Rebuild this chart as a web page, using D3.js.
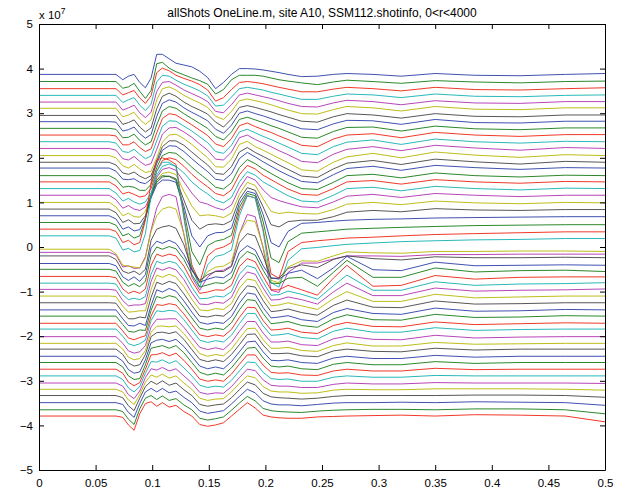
<!DOCTYPE html>
<html>
<head>
<meta charset="utf-8">
<script src="https://cdn.jsdelivr.net/npm/d3@7"></script>
<style>
  body { margin: 0; background: #fff; }
  text { font-family: "Liberation Sans", Arial, Helvetica, sans-serif; }
</style>
</head>
<body>
<svg id="chart" width="618" height="493"></svg>
<script>
// Sample times (s) shared by every trace
const timeKnots = [0,0.062,0.068,0.074,0.079,0.084,0.089,0.094,0.099,0.104,
  0.109,0.115,0.121,0.128,0.135,0.142,0.149,0.156,0.163,0.170,
  0.177,0.184,0.191,0.198,0.205,0.212,0.220,0.232,0.246,0.260,
  0.272,0.295,0.320,0.350,0.385,0.425,0.465,0.500];

// Vertical offset of each trace (units of 1e7)
const traceOffsets = [3.87,3.71,3.55,3.40,3.25,3.11,2.95,2.81,2.66,2.51,2.36,2.21,2.05,1.90,
  1.77,1.60,1.46,1.31,1.16,1.00,0.85,0.70,0.55,0.40,0.25,-0.12,-0.05,-0.20,
  -0.37,-0.50,-0.66,-0.81,-0.95,-1.10,-1.25,-1.41,-1.55,-1.71,-1.84,-2.01,-2.16,-2.29,
  -2.45,-2.59,-2.74,-2.89,-3.05,-3.19,-3.33,-3.49,-3.65,-3.79];

// Line colour order (b g r c m y k)
const colorCycle = ["#2a3da8","#137a13","#ee2211","#11b0b0","#b030b0","#b5b500","#444444"];

// Trace amplitudes at the sample times (units of 1e6), top group
const upperTraces = [
  [0,0,0,-1.2,-0.4,0,-1.8,-3.0,-0.8,4.5,4.5,3.5,2.5,2.1,1.7,0.7,-0.7,-3.2,-1.8,0,1.3,1.3,1.2,1.0,0.7,0.4,0,-0.5,-0.4,0,0.2,0,-0.4,0.2,-0.2,-0.3,0,0.2],
  [0,0,0,-1.5,-1.2,-0.4,-2.2,-3.8,-2.0,4.0,4.3,3.0,2.2,1.5,0.8,0.2,-0.6,-2.8,-1.8,0.4,1.4,1.4,1.4,1.2,0.8,0.4,0.1,-0.3,-0.7,-0.1,0.3,0,-0.4,0.2,-0.1,-0.3,0,0.1],
  [0,0,0,-1.4,-0.9,-0.4,-2.1,-3.3,-1.6,3.6,4.6,4.0,3.0,2.3,1.7,0.9,-0.3,-2.8,-2.0,-0.2,1.4,1.6,1.4,1.1,0.7,0.3,-0.1,-0.7,-0.7,-0.1,0.3,0,-0.5,0.3,-0.2,-0.3,0,0.2],
  [0,0,0,-1.6,-1.0,-0.5,-2.2,-3.4,-2.0,3.0,4.5,4.3,3.4,2.5,1.8,1.0,-0.1,-2.4,-2.2,-0.4,1.5,1.8,1.5,1.2,0.7,0.3,-0.2,-0.9,-0.9,-0.2,0.3,0.1,-0.5,0.3,-0.2,-0.3,0,0.1],
  [0,0,0,-1.8,-1.3,-0.7,-2.4,-3.5,-2.3,2.4,4.4,4.6,3.8,2.7,1.9,1.1,0.1,-2.1,-2.4,-0.6,1.6,2.0,1.6,1.2,0.8,0.3,-0.3,-1.0,-1.1,-0.2,0.4,0.1,-0.6,0.3,-0.2,-0.3,0.1,0.1],
  [0,0,0,-1.9,-1.5,-0.9,-2.5,-3.6,-2.6,1.9,4.4,4.8,4.1,2.9,2.0,1.2,0.2,-1.8,-2.5,-0.7,1.7,2.1,1.7,1.3,0.8,0.2,-0.4,-1.2,-1.3,-0.3,0.4,0.1,-0.6,0.4,-0.2,-0.3,0.1,0.1],
  [0,0,0,-2.0,-1.6,-1.0,-2.6,-3.7,-2.8,1.5,4.3,5.0,4.3,3.0,2.0,1.2,0.3,-1.5,-2.6,-0.8,1.8,2.2,1.8,1.3,0.8,0.2,-0.4,-1.3,-1.5,-0.3,0.4,0.1,-0.6,0.4,-0.2,-0.3,0.1,0.1],
  [0,0,-0.1,-2.1,-1.8,-1.2,-2.7,-3.7,-2.9,1.2,4.1,4.9,4.4,3.1,2.1,1.2,0.2,-1.7,-2.6,-0.8,1.9,2.4,1.8,1.3,0.7,0.1,-0.6,-1.6,-1.8,-0.5,0.3,0.2,-0.6,0.5,-0.2,-0.3,0.1,0.1],
  [0,0,-0.2,-2.1,-2.0,-1.3,-2.7,-3.7,-3.0,0.8,3.9,4.9,4.5,3.3,2.2,1.1,0,-1.8,-2.6,-0.8,2.0,2.5,1.9,1.3,0.6,0,-0.8,-2.0,-2.2,-0.7,0.2,0.3,-0.6,0.5,-0.1,-0.3,0.1,0.1],
  [0,0,-0.2,-2.2,-2.2,-1.5,-2.8,-3.7,-3.1,0.5,3.7,4.8,4.5,3.4,2.3,1.1,-0.1,-2.0,-2.6,-0.8,2.1,2.7,1.9,1.2,0.6,-0.2,-1.0,-2.3,-2.6,-0.9,0,0.3,-0.6,0.6,0,-0.3,0.1,0.1],
  [0,0,-0.3,-2.2,-2.4,-1.7,-2.8,-3.8,-3.2,0.2,3.5,4.7,4.6,3.5,2.4,1.1,-0.2,-2.2,-2.6,-0.8,2.2,2.8,2.0,1.2,0.5,-0.3,-1.2,-2.6,-2.9,-1.1,-0.1,0.4,-0.6,0.6,0,-0.3,0.1,0],
  [0,0,-0.4,-2.3,-2.6,-1.8,-2.9,-3.8,-3.4,-0.2,3.2,4.6,4.7,3.7,2.5,1.0,-0.4,-2.4,-2.6,-0.8,2.4,3.0,2.0,1.2,0.4,-0.5,-1.4,-2.9,-3.2,-1.3,-0.2,0.4,-0.5,0.7,0.1,-0.4,0.2,0],
  [0,0,-0.5,-2.3,-2.8,-2.0,-3.0,-3.8,-3.5,-0.5,3.0,4.6,4.8,3.8,2.5,1.0,-0.5,-2.5,-2.6,-0.8,2.5,3.2,2.0,1.2,0.3,-0.6,-1.6,-3.2,-3.5,-1.5,-0.3,0.5,-0.5,0.8,0.1,-0.4,0.2,0],
  [0,0,-0.6,-2.4,-2.7,-2.2,-3.1,-3.7,-3.0,0.3,3.5,4.8,4.8,3.8,2.3,0.8,-0.6,-2.5,-2.7,-1.0,2.3,3.3,2.2,1.3,0.4,-0.6,-1.6,-3.1,-3.4,-1.5,-0.2,0.4,-0.5,0.7,0.1,-0.4,0.2,0]
];

// Middle group, including the strongest arrivals
const middleTraces = [
  [0,0,-0.7,-2.5,-2.6,-2.4,-3.2,-3.5,-2.5,1.0,4.0,5.0,4.9,3.7,2.1,0.6,-0.8,-2.5,-2.8,-1.3,2.1,3.5,2.5,1.4,0.4,-0.6,-1.6,-3.0,-3.3,-1.5,-0.1,0.4,-0.5,0.6,0.1,-0.3,0.1,0],
  [0,0,-0.8,-2.6,-2.4,-2.6,-3.3,-3.3,-2.0,1.8,4.5,5.2,5.0,3.6,1.9,0.4,-1.0,-2.6,-3.0,-1.6,1.8,3.6,2.7,1.5,0.5,-0.5,-1.6,-2.9,-3.1,-1.5,0,0.3,-0.5,0.6,0,-0.3,0.1,0],
  [0,0,-0.9,-2.7,-2.3,-2.8,-3.4,-3.1,-1.5,2.4,4.8,5.4,5.0,3.5,1.7,0.2,-1.1,-2.6,-3.1,-1.8,1.6,3.7,2.9,1.5,0.5,-0.5,-1.6,-2.8,-3.0,-1.5,0,0.3,-0.5,0.5,0,-0.3,0.1,0],
  [0,0,-1.0,-2.8,-2.2,-3.0,-3.5,-3.0,-1.0,3.0,5.0,5.5,5.0,3.5,1.5,0,-1.2,-2.6,-3.2,-2.0,1.5,3.8,3.0,1.5,0.5,-0.5,-1.6,-2.8,-3.0,-1.5,0,0.3,-0.5,0.5,0,-0.3,0.1,0],
  [0,0,-1.0,-2.9,-2.3,-3.1,-3.4,-2.6,0,4.0,5.8,6.2,5.6,3.0,0.5,-1.5,-2.0,-2.8,-3.3,-2.2,1.6,4.2,3.4,1.2,-0.5,-1.2,-1.8,-2.6,-2.8,-1.5,-0.2,0.2,-0.5,0.4,0,-0.3,0,0],
  [0,0,-1.0,-3.0,-2.4,-3.2,-3.3,-2.0,1.5,5.0,6.5,6.8,6.2,2.5,-0.8,-3.0,-2.8,-3.0,-3.4,-2.4,1.8,4.5,3.8,0.8,-2.0,-2.5,-2.2,-2.5,-2.6,-1.6,-0.4,0,-0.5,0.3,-0.1,-0.3,0,-0.1],
  [0,0,-0.8,-3.0,-2.4,-3.3,-3.2,-1.5,3.0,6.0,7.2,7.4,6.8,2.0,-2.5,-4.5,-3.5,-3.3,-3.5,-2.6,2.2,4.8,4.2,0.5,-3.5,-4.0,-2.8,-2.5,-2.5,-1.7,-0.7,-0.3,-0.6,0.1,-0.2,-0.3,-0.1,-0.1],
  [0,0,-0.7,-3.0,-2.5,-3.4,-3.1,-0.5,4.0,7.0,8.0,8.0,7.5,2.2,-4.5,-7.0,-4.5,-3.8,-3.7,-2.8,2.8,5.5,5.0,0.3,-6.0,-7.0,-3.5,-1.7,-1.5,-1.2,-1.0,-0.8,-0.7,-0.5,-0.4,-0.3,-0.2,-0.2],
  [0,0,-0.6,-3.0,-2.5,-3.5,-3.0,0.8,6.0,9.5,10.5,10.3,9.5,2.6,-6.5,-9.5,-5.2,-4.2,-3.8,-2.9,3.4,6.5,6.0,0.2,-8.0,-9.0,-4.3,-2.4,-2.1,-1.8,-1.5,-1.3,-1.1,-0.9,-0.7,-0.6,-0.5,-0.5],
  [0,0,-0.5,-3.0,-2.5,-3.5,-3.0,2.0,10.5,15.5,16.0,15.5,14.5,3.0,-8.0,-12.0,-6.0,-4.5,-4.0,-3.0,4.0,7.5,7.0,0,-10.0,-11.0,-5.0,-3.0,-2.6,-2.3,-2.0,-1.8,-1.5,-1.2,-1.0,-0.8,-0.6,-0.6],
  [0,0,-0.5,-3.2,-2.8,-3.6,-3.3,0.5,9.0,14.5,16.5,16.5,15.5,4.0,-7.0,-11.5,-6.5,-4.6,-4.2,-3.2,4.5,9.0,8.5,1.0,-10.5,-11.5,-5.5,-2.9,-2.6,-2.2,-1.9,-1.6,-1.3,-1.1,-0.9,-0.8,-0.6,-0.6],
  [0,0,-0.6,-3.3,-3.0,-3.6,-3.5,-1.0,5.0,10.0,12.5,13.0,12.5,4.0,-5.5,-8.5,-5.5,-4.2,-4.0,-3.0,4.2,8.5,8.0,1.0,-8.5,-9.0,-4.5,-2.4,-2.4,-1.5,-0.8,-0.8,-0.9,-0.5,-0.5,-0.4,-0.4,-0.4],
  [0,0,-1.0,-3.6,-3.8,-4.0,-4.2,-2.0,4.0,7.5,9.0,9.5,9.0,3.5,-4.5,-7.5,-5.0,-4.0,-3.8,-2.8,3.5,6.5,6.2,0.5,-7.0,-7.5,-4.0,-2.6,-2.7,-1.5,-0.6,-0.8,-0.9,-0.5,-0.5,-0.4,-0.4,-0.5],
  [0,0,-0.8,-3.4,-3.9,-3.4,-4.2,-3.0,3.5,6.0,6.5,6.8,6.2,2.5,-3.0,-5.5,-4.2,-3.5,-3.5,-2.4,3.0,5.0,4.5,0,-5.0,-5.0,-2.8,-2.0,-2.6,-0.8,0,-0.6,-0.9,-0.2,-0.4,-0.4,-0.3,-0.4]
];

// Bottom group
const lowerTraces = [
  [0,0,-0.5,-3.0,-3.8,-3.0,-4.0,-2.5,3.5,5.0,4.5,5.2,4.5,2.0,-1.5,-4.2,-3.5,-3.0,-3.2,-2.0,2.5,4.0,3.0,-0.5,-3.2,-3.5,-2.2,-1.5,-3.4,-1.0,1.6,-1.4,-1.6,0.3,-0.5,-0.4,-0.3,-0.4],
  [0,0,-0.4,-2.9,-3.8,-3.2,-3.9,-2.7,3.0,5.0,4.5,5.1,4.6,2.2,-1.2,-4.0,-3.5,-3.0,-3.2,-2.0,2.3,4.0,3.2,-0.2,-3.1,-3.2,-2.0,-1.8,-3.8,-0.7,2.0,-1.8,-1.8,0.3,-0.6,-0.3,-0.2,-0.5],
  [0,0,-0.3,-2.8,-3.8,-3.3,-3.8,-2.8,2.5,5.0,4.5,5.0,4.6,2.3,-1.0,-3.8,-3.5,-3.0,-3.1,-2.0,2.2,4.0,3.3,0,-3.0,-3.0,-2.0,-3.0,-4.2,-0.4,2.5,-2.2,-2.0,0.2,-0.6,-0.2,-0.1,-0.1],
  [0,0,-0.2,-2.6,-3.7,-3.4,-3.7,-3.0,2.0,4.9,4.4,4.9,4.5,2.3,-0.9,-3.5,-3.4,-2.9,-3.1,-1.9,2.0,3.9,3.4,0.2,-2.7,-2.6,-1.8,-2.5,-3.6,-0.6,1.8,-1.6,-1.6,0.3,-0.5,-0.2,-0.1,0.1],
  [0,0,-0.2,-2.5,-3.7,-3.5,-3.5,-3.2,1.8,4.8,4.3,4.9,4.4,2.2,-0.8,-3.3,-3.4,-2.9,-3.1,-1.8,1.9,3.9,3.4,0.3,-2.4,-2.3,-1.7,-2.3,-3.3,-0.6,1.4,-1.4,-1.4,0.3,-0.4,-0.2,-0.1,0.1],
  [0,0,-0.1,-2.3,-3.6,-3.5,-3.3,-3.3,1.5,4.7,4.2,4.9,4.3,2.1,-0.7,-3.1,-3.3,-2.8,-3.0,-1.7,1.8,3.8,3.5,0.4,-2.2,-2.0,-1.5,-2.2,-3.0,-0.6,1.0,-1.2,-1.2,0.4,-0.4,-0.2,0,0],
  [0,0,-0.1,-2.2,-3.6,-3.6,-3.2,-3.4,1.2,4.6,4.1,4.8,4.3,2.0,-0.6,-3.0,-3.2,-2.8,-3.0,-1.6,1.6,3.8,3.5,0.5,-2.0,-1.8,-1.4,-2.2,-2.8,-0.6,0.6,-1.0,-1.1,0.4,-0.3,-0.2,0,0],
  [0,0,0,-2.0,-3.5,-3.6,-3.0,-3.5,1.0,4.5,4.0,4.8,4.2,2.0,-0.5,-2.8,-3.2,-2.8,-3.0,-1.5,1.5,3.8,3.5,0.5,-1.8,-1.6,-1.3,-2.2,-2.6,-0.6,0.3,-0.8,-1.0,0.4,-0.3,-0.2,0.1,0],
  [0,0,0,-1.9,-3.4,-3.6,-3.1,-3.2,1.3,4.4,4.0,4.6,4.2,2.0,-0.4,-2.7,-3.1,-2.7,-3.0,-1.5,1.4,3.7,3.5,0.6,-1.7,-1.5,-1.2,-2.1,-2.5,-0.6,0.3,-0.8,-0.9,0.4,-0.3,-0.2,0.1,0],
  [0,0,0,-1.7,-3.3,-3.7,-3.2,-2.8,1.6,4.2,4.0,4.4,4.1,2.1,-0.3,-2.6,-3.0,-2.6,-2.9,-1.4,1.3,3.6,3.5,0.6,-1.5,-1.4,-1.1,-2.0,-2.3,-0.5,0.2,-0.7,-0.8,0.3,-0.3,-0.1,0.1,0],
  [0,0,0,-1.6,-3.3,-3.7,-3.3,-2.5,1.9,4.1,3.9,4.2,4.0,2.1,-0.2,-2.5,-3.0,-2.6,-2.9,-1.4,1.2,3.5,3.5,0.7,-1.4,-1.3,-1.0,-1.9,-2.2,-0.5,0.2,-0.7,-0.7,0.3,-0.3,-0.1,0,0],
  [0,0,0,-1.5,-3.2,-3.7,-3.4,-2.0,2.2,3.9,3.9,4.0,4.0,2.1,-0.2,-2.4,-2.9,-2.5,-2.9,-1.3,1.2,3.4,3.4,0.8,-1.2,-1.2,-1.0,-1.8,-2.0,-0.5,0.1,-0.6,-0.7,0.3,-0.3,-0.1,0,0],
  [0,0,0,-1.3,-3.1,-3.7,-3.4,-1.6,2.5,3.8,3.9,3.7,3.9,2.2,-0.1,-2.3,-2.9,-2.5,-2.8,-1.3,1.1,3.3,3.4,0.8,-1.1,-1.1,-0.9,-1.6,-1.8,-0.5,0.1,-0.6,-0.6,0.2,-0.2,-0.1,0,0],
  [0,0,0,-1.2,-3.1,-3.8,-3.5,-1.2,2.8,3.7,3.8,3.5,3.9,2.2,-0.1,-2.3,-2.8,-2.4,-2.8,-1.2,1.0,3.3,3.4,0.9,-1.0,-1.0,-0.9,-1.5,-1.7,-0.4,0,-0.5,-0.6,0.2,-0.2,0,0,0],
  [0,0,0,-1.1,-3.0,-3.8,-3.5,-0.8,3.0,3.6,3.8,3.3,3.8,2.2,0,-2.2,-2.8,-2.4,-2.8,-1.2,1.0,3.2,3.4,1.0,-0.9,-1.0,-0.8,-1.4,-1.6,-0.4,0,-0.5,-0.5,0.2,-0.2,0,0,0],
  [0,0,0,-1.0,-3.0,-3.8,-3.6,-0.5,3.2,3.5,3.8,3.2,3.8,2.2,0,-2.2,-2.8,-2.4,-2.8,-1.2,1.0,3.2,3.4,1.0,-0.8,-1.0,-0.8,-1.4,-1.6,-0.4,0,-0.5,-0.5,0.2,-0.2,0,0,0],
  [0,0,0,-0.9,-2.9,-3.7,-3.0,0,3.2,3.3,3.7,3.0,3.6,2.0,0,-2.2,-2.7,-2.4,-2.7,-1.1,1.1,3.2,3.2,0.9,-0.7,-0.9,-0.8,-1.3,-1.4,-0.4,0,-0.4,-0.4,0.2,-0.1,0,0,0],
  [0,0,0,-0.8,-2.7,-3.6,-2.4,0.6,3.2,3.1,3.6,2.8,3.4,1.8,0,-2.1,-2.6,-2.3,-2.5,-1.0,1.1,3.1,3.0,0.8,-0.6,-0.8,-0.7,-1.2,-1.2,-0.3,0,-0.3,-0.3,0.1,0,0,0,0],
  [0,0,0,-0.7,-2.6,-3.5,-1.8,1.2,3.2,2.9,3.5,2.7,3.2,1.6,0,-2.1,-2.5,-2.2,-2.3,-0.8,1.2,3.1,2.8,0.7,-0.5,-0.7,-0.7,-1.0,-1.0,-0.3,0,-0.2,-0.2,0.1,0,0,0,-0.1],
  [0,0,0,-0.6,-2.4,-3.4,-1.2,1.6,3.2,2.7,3.4,2.5,3.0,1.4,0,-2.0,-2.5,-2.2,-2.1,-0.6,1.3,3.0,2.6,0.6,-0.4,-0.6,-0.6,-0.9,-0.8,-0.2,0,-0.1,-0.1,0.1,0.1,0.1,0,-0.2],
  [0,0,0,-0.5,-2.3,-3.4,-0.6,2.0,3.2,2.5,3.3,2.3,2.8,1.3,0,-2.0,-2.4,-2.1,-1.9,-0.5,1.3,3.0,2.4,0.5,-0.3,-0.5,-0.6,-0.8,-0.6,-0.2,0,0,0,0,0.1,0.1,0,-0.4],
  [0,0,0,-0.4,-2.2,-3.3,-0.2,2.4,3.2,2.4,3.2,2.2,2.6,1.2,0,-1.9,-2.4,-2.1,-1.8,-0.3,1.4,3.0,2.2,0.4,-0.3,-0.5,-0.5,-0.7,-0.4,-0.1,0,0,0.1,0,0.2,0.1,0,-0.6],
  [0,0,0,-0.4,-2.1,-3.3,0.2,2.6,3.2,2.3,3.1,2.1,2.5,1.1,0,-1.9,-2.3,-2.0,-1.6,-0.1,1.5,3.0,2.0,0.3,-0.2,-0.4,-0.5,-0.6,-0.3,-0.1,0,0.1,0.1,0,0.2,0.2,0,-0.9],
  [0,0,0,-0.3,-2.0,-3.2,0.5,2.8,3.2,2.2,3.0,2.0,2.4,1.0,0,-1.9,-2.3,-2.0,-1.5,0,1.5,3.0,1.8,0.2,-0.2,-0.4,-0.5,-0.5,-0.2,-0.1,0,0.1,0.2,0,0.3,0.2,0,-1.3]
];

// Axis ticks
const xTicks = [0,0.05,0.1,0.15,0.2,0.25,0.3,0.35,0.4,0.45,0.5];
const yTicks = [-5,-4,-3,-2,-1,0,1,2,3,4,5];

const titleText = "allShots OneLine.m, site A10, SSM112.shotinfo, 0<r<4000";

const svg = d3.select("#chart");
const plotLeft = 39, plotRight = 605, plotTop = 24, plotBottom = 470;

const x = d3.scaleLinear().domain([0, 0.5]).range([plotLeft, plotRight]);
const y = d3.scaleLinear().domain([-5, 5]).range([plotBottom, plotTop]); // units of 1e7

svg.append("rect").attr("width", 618).attr("height", 493).attr("fill", "#fff");

svg.append("clipPath").attr("id", "plotClip")
  .append("rect").attr("x", plotLeft).attr("y", plotTop)
  .attr("width", plotRight - plotLeft).attr("height", plotBottom - plotTop);

const allTraces = upperTraces.concat(middleTraces, lowerTraces);

const line = d3.line()
  .x(d => x(d[0]))
  .y(d => y(d[1]));

const traceGroup = svg.append("g").attr("clip-path", "url(#plotClip)");
allTraces.forEach((amps, i) => {
  const pts = timeKnots.map((t, k) => [t, traceOffsets[i] + amps[k] / 10]);
  traceGroup.append("path")
    .attr("d", line(pts))
    .attr("fill", "none")
    .attr("stroke", colorCycle[i % colorCycle.length])
    .attr("stroke-width", 0.9)
    .attr("stroke-linejoin", "round");
});

// Axes with inward ticks on all four sides
const fmtX = d => String(d);
const gB = svg.append("g").attr("transform", `translate(0,${plotBottom})`)
  .call(d3.axisBottom(x).tickValues(xTicks).tickFormat(fmtX).tickSize(-5).tickSizeOuter(0).tickPadding(9));
const gT = svg.append("g").attr("transform", `translate(0,${plotTop})`)
  .call(d3.axisTop(x).tickValues(xTicks).tickFormat("").tickSize(-5).tickSizeOuter(0));
const gL = svg.append("g").attr("transform", `translate(${plotLeft},0)`)
  .call(d3.axisLeft(y).tickValues(yTicks).tickFormat(d3.format("d")).tickSize(-5).tickSizeOuter(0).tickPadding(6));
const gR = svg.append("g").attr("transform", `translate(${plotRight},0)`)
  .call(d3.axisRight(y).tickValues(yTicks).tickFormat("").tickSize(-5).tickSizeOuter(0));

[gB, gT, gL, gR].forEach(g => {
  g.selectAll("path.domain").attr("stroke", "#000").attr("stroke-width", 1);
  g.selectAll(".tick line").attr("stroke", "#000").attr("stroke-width", 1);
  g.selectAll("text").attr("fill", "#000")
    .style("font-family", '"Liberation Sans", Arial, Helvetica, sans-serif')
    .style("font-size", "11.5px");
});

// Exponent label
const expo = svg.append("text").attr("x", 39).attr("y", 18.5)
  .style("font-size", "11.5px").attr("fill", "#000");
expo.append("tspan").text("x 10");
expo.append("tspan").attr("dy", -5).style("font-size", "8.5px").text("7");

// Title
svg.append("text").attr("x", (plotLeft + plotRight) / 2).attr("y", 16.5)
  .attr("text-anchor", "middle").style("font-size", "12px").attr("fill", "#000")
  .text(titleText);
</script>
</body>
</html>
